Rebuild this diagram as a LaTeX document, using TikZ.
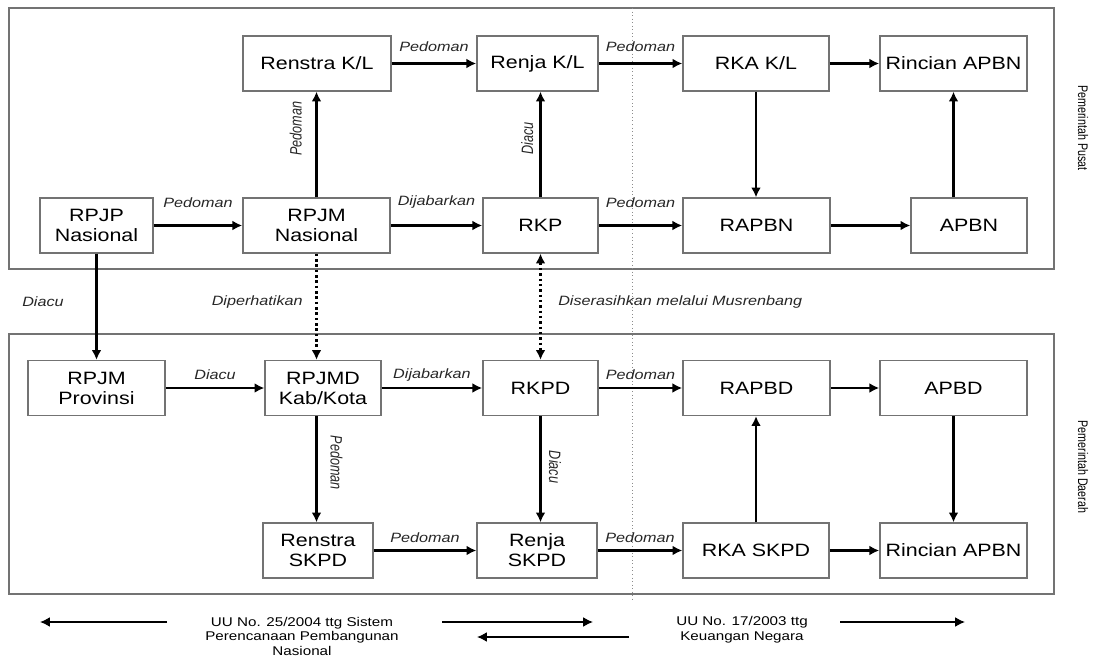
\documentclass[tikz,border=0pt]{standalone}
\usepackage{fontspec}
\setmainfont[FakeStretch=1.2]{Liberation Sans}
\newfontfamily\plainfont{Liberation Sans}
\usetikzlibrary{calc,arrows.meta}
\tikzset{
    box/.style={draw=black!55, line width=0.9pt, minimum height=1.375cm, inner sep=0pt, align=center, font=\fontsize{12.7}{14.2}\selectfont},
    lbl/.style={font=\fontsize{9.6}{10}\selectfont\itshape, text=black!85, inner sep=0pt},
    vlbl/.style={font=\plainfont\fontsize{9}{10}\selectfont\itshape, text=black!85, inner sep=0pt},
    side/.style={rotate=-90, font=\plainfont\fontsize{7.6}{8}\selectfont},
    flow/.style={-{Latex[length=7pt,width=7pt]}, line width=1.6pt},
    dotflow/.style={-{Latex[length=7pt,width=7pt]}, line width=1.8pt, dotted},
    frame/.style={draw=black!55, line width=1pt}
}
\newcommand{\tall}[1]{\scalebox{1}[1.3]{#1}}
\begin{document}
\begin{tikzpicture}[x=0.025cm, y=-0.025cm]
    \useasboundingbox (0,0) rectangle (1094,657);
    % frames
    \draw[frame] (9,8) rectangle (1054,269);
    \draw[frame] (9,334) rectangle (1054,594);
    \draw[dotted, black!45, line width=0.5pt] (632,8) -- (632,600);
    \node[side] (pusat) at (1083,128) {\tall{Pemerintah Pusat}};
    \node[side] (daerah) at (1083,467) {\tall{Pemerintah Daerah}};

    % pemerintah pusat
    \node[box, minimum width=3.7cm] (renstrakl) at (317,63.5) {Renstra K/L};
    \node[box, minimum width=3.03cm] (renjakl) at (537.5,63.5) {Renja K/L};
    \node[box, minimum width=3.65cm] (rkakl) at (756,63.5) {RKA K/L};
    \node[box, minimum width=3.68cm] (rincianapbn) at (953.5,63.5) {Rincian APBN};
    \node[box, minimum width=2.83cm] (rpjp) at (96.5,225.5) {RPJP\\Nasional};
    \node[box, minimum width=3.68cm] (rpjm) at (316.5,225.5) {RPJM\\Nasional};
    \node[box, minimum width=2.88cm] (rkp) at (540.5,225.5) {RKP};
    \node[box, minimum width=3.68cm] (rapbn) at (756.5,225.5) {RAPBN};
    \node[box, minimum width=2.9cm] (apbn) at (969,225.5) {APBN};

    % pemerintah daerah
    \node[box, minimum width=3.43cm] (rpjmprov) at (96.5,388) {RPJM\\Provinsi};
    \node[box, minimum width=2.9cm] (rpjmd) at (323,388) {RPJMD\\Kab/Kota};
    \node[box, minimum width=2.88cm] (rkpd) at (540.5,388) {RKPD};
    \node[box, minimum width=3.68cm] (rapbd) at (756.5,388) {RAPBD};
    \node[box, minimum width=3.68cm] (apbd) at (953.5,388) {APBD};
    \node[box, minimum width=2.75cm] (renstraskpd) at (318,550.5) {Renstra\\SKPD};
    \node[box, minimum width=3cm] (renjaskpd) at (537,550.5) {Renja\\SKPD};
    \node[box, minimum width=3.65cm] (rkaskpd) at (756,550.5) {RKA SKPD};
    \node[box, minimum width=3.68cm] (rinciandaerah) at (953.5,550.5) {Rincian APBN};

    % arrows pusat
    \draw[flow] (renstrakl) -- node[lbl, midway, yshift=0.43cm]{Pedoman} (renjakl);
    \draw[flow] (renjakl) -- node[lbl, midway, yshift=0.43cm]{Pedoman} (rkakl);
    \draw[flow] (rkakl) -- (rincianapbn);
    \draw[flow] (rpjp) -- node[lbl, midway, yshift=0.58cm]{Pedoman} (rpjm);
    \draw[flow] (rpjm) -- node[lbl, midway, yshift=0.58cm]{Dijabarkan} (rkp);
    \draw[flow] (rkp) -- node[lbl, midway, yshift=0.58cm]{Pedoman} (rapbn);
    \draw[flow] (rapbn) -- (apbn);
    \draw[flow] (rpjm.north) -- node[vlbl, pos=0.65, rotate=90, yshift=0.52cm]{\tall{Pedoman}} (rpjm.north |- renstrakl.south);
    \draw[flow] (rkp.north) -- node[vlbl, pos=0.56, rotate=90, yshift=0.33cm]{\tall{Diacu}} (rkp.north |- renjakl.south);
    \draw[flow] (rkakl.south) -- (rkakl.south |- rapbn.north);
    \draw[flow] (apbn.north -| rincianapbn.south) -- (rincianapbn.south);

    % antar pusat dan daerah
    \draw[flow] (rpjp.south) -- (rpjp.south |- rpjmprov.north);
    \node[lbl] (diacu) at (43,302) {Diacu};
    \draw[dotflow] (rpjm.south) -- (rpjm.south |- rpjmd.north);
    \node[lbl, anchor=east] (diperhatikan) at (303,302) {Diperhatikan};
    \draw[dotflow, {Latex[length=7pt,width=7pt]}-{Latex[length=7pt,width=7pt]}] (rkp.south) -- (rkp.south |- rkpd.north);
    \node[lbl, anchor=west] (musrenbang) at (558,302) {Diserasihkan melalui Musrenbang};

    % arrows daerah
    \draw[flow] (rpjmprov) -- node[lbl, midway, yshift=0.33cm]{Diacu} (rpjmd);
    \draw[flow] (rpjmd) -- node[lbl, midway, yshift=0.33cm]{Dijabarkan} (rkpd);
    \draw[flow] (rkpd) -- node[lbl, midway, yshift=0.33cm]{Pedoman} (rapbd);
    \draw[flow] (rapbd) -- (apbd);
    \draw[flow] (rpjm.south |- rpjmd.south) -- node[vlbl, pos=0.44, rotate=-90, yshift=0.5cm]{\tall{Pedoman}} (rpjm.south |- renstraskpd.north);
    \draw[flow] (rkpd.south) -- node[vlbl, pos=0.48, rotate=-90, yshift=0.36cm]{\tall{Diacu}} (rkpd.south |- renjaskpd.north);
    \draw[flow] (renstraskpd) -- node[lbl, midway, yshift=0.33cm]{Pedoman} (renjaskpd);
    \draw[flow] (renjaskpd) -- node[lbl, midway, yshift=0.33cm]{Pedoman} (rkaskpd);
    \draw[flow] (rkaskpd) -- (rinciandaerah);
    \draw[flow] (rkaskpd.north) -- (rkaskpd.north |- rapbd.south);
    \draw[flow] (apbd.south) -- (apbd.south |- rinciandaerah.north);

    % undang-undang
    \node[align=center, inner sep=0pt, font=\fontsize{9}{10.3}\selectfont] (uu25) at (302,636) {UU No. 25/2004 ttg Sistem\\Perencanaan Pembangunan\\Nasional};
    \node[align=center, inner sep=0pt, font=\fontsize{9}{10.3}\selectfont] (uu17) at (742,629.5) {UU No. 17/2003 ttg\\Keuangan Negara};
    \coordinate (a1) at (167,622);
    \coordinate (a2) at (40,622);
    \coordinate (b1) at (442,622);
    \coordinate (b2) at (593,622);
    \coordinate (c1) at (629,637);
    \coordinate (c2) at (477,637);
    \coordinate (d1) at (840,622);
    \coordinate (d2) at (965,622);
    \draw[flow, line width=1.1pt] (a1) -- (a2);
    \draw[flow, line width=1.1pt] (b1) -- (b2);
    \draw[flow, line width=1.1pt] (c1) -- (c2);
    \draw[flow, line width=1.1pt] (d1) -- (d2);
\end{tikzpicture}
\end{document}
